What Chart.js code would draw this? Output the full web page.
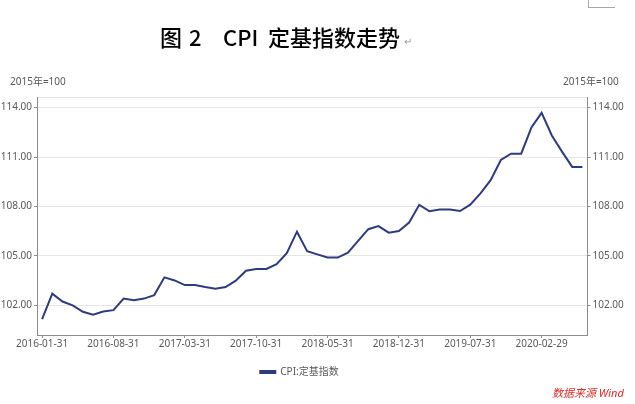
<!DOCTYPE html>
<html>
<head>
<meta charset="utf-8">
<script src="https://cdn.jsdelivr.net/npm/chart.js@4/dist/chart.umd.min.js"></script>
<style>
    html, body { margin: 0; padding: 0; background: #fff; }
    #wrap { position: relative; width: 635px; height: 404px; overflow: hidden; }
    #cpiChart { position: absolute; left: 0; top: 0; }
    .txt { position: absolute; white-space: nowrap; font-family: 'Noto Sans', 'Noto Sans CJK SC', sans-serif; }
    .title { font-family: 'Noto Sans CJK SC', sans-serif; font-size: 22px; font-weight: 500; color: #000; top: 22px; line-height: 28px; }
    .unit { font-size: 10px; color: #595959; top: 73px; }
    .source { font-size: 11px; color: #e02828; font-style: italic; left: 552px; top: 384px; }
    .mark { font-size: 10px; color: #999; left: 404px; top: 34px; }
    #corner { position: absolute; left: 588px; top: -1px; width: 26px; height: 8px; border-left: 1px solid #aaa; border-bottom: 1px solid #aaa; }
</style>
</head>
<body>
<div id="wrap">
    <canvas id="cpiChart" width="635" height="404"></canvas>
    <div id="corner"></div>
    <span class="txt title" style="left:160px">图</span>
    <span class="txt title" style="left:189px">2</span>
    <span class="txt title" style="left:223px">CPI</span>
    <span class="txt title" style="left:268px">定基指数走势</span>
    <span class="txt mark">↵</span>
    <span class="txt unit" style="left:10px">2015年=100</span>
    <span class="txt unit" style="left:563px">2015年=100</span>
    <span class="txt source">数据来源 Wind</span>
</div>
<script>
// ==========================================
// CPI fixed-base index (2015 = 100), monthly
// ==========================================

const months = [
    '2016-01-31', '2016-02-29', '2016-03-31', '2016-04-30', '2016-05-31', '2016-06-30',
    '2016-07-31', '2016-08-31', '2016-09-30', '2016-10-31', '2016-11-30', '2016-12-31',
    '2017-01-31', '2017-02-28', '2017-03-31', '2017-04-30', '2017-05-31', '2017-06-30',
    '2017-07-31', '2017-08-31', '2017-09-30', '2017-10-31', '2017-11-30', '2017-12-31',
    '2018-01-31', '2018-02-28', '2018-03-31', '2018-04-30', '2018-05-31', '2018-06-30',
    '2018-07-31', '2018-08-31', '2018-09-30', '2018-10-31', '2018-11-30', '2018-12-31',
    '2019-01-31', '2019-02-28', '2019-03-31', '2019-04-30', '2019-05-31', '2019-06-30',
    '2019-07-31', '2019-08-31', '2019-09-30', '2019-10-31', '2019-11-30', '2019-12-31',
    '2020-01-31', '2020-02-29', '2020-03-31', '2020-04-30', '2020-05-31', '2020-06-30'
];

const cpiIndex = [
    101.16, 102.71, 102.23, 102.00, 101.61, 101.43,
    101.62, 101.71, 102.41, 102.31, 102.41, 102.62,
    103.70, 103.51, 103.23, 103.23, 103.11, 103.01,
    103.11, 103.50, 104.10, 104.21, 104.21, 104.50,
    105.17, 106.47, 105.29, 105.09, 104.90, 104.90,
    105.19, 105.91, 106.62, 106.81, 106.41, 106.51,
    107.02, 108.10, 107.71, 107.81, 107.81, 107.72,
    108.11, 108.79, 109.60, 110.82, 111.20, 111.20,
    112.80, 113.68, 112.31, 111.33, 110.40, 110.40
];

// labelled x ticks (every 7th month)
const xTickLabels = ['2016-01-31', '2016-08-31', '2017-03-31', '2017-10-31',
    '2018-05-31', '2018-12-31', '2019-07-31', '2020-02-29'];

const yTicks = [102, 105, 108, 111, 114];
const yMin = 100.2;
const yMax = 114.6;

const lineColor = '#2e3b80';
const textColor = '#595959';
const axisColor = '#8c8c8c';
const gridColor = '#e6e6e6';
const tickFont = { size: 10, family: "'Noto Sans', 'Noto Sans CJK SC', sans-serif" };

function setYTicks(scale) {
    scale.ticks = [...yTicks, yMax].map(v => ({ value: v }));
}

const hideTopTick = c => (c.tick && c.tick.value > yMax - 0.01) ? 'rgba(0,0,0,0)' : axisColor;

const yTickOpts = {
    color: textColor,
    font: tickFont,
    padding: 2,
    callback: function (value) {
        return value > yMax - 0.01 ? '' : value.toFixed(2);
    }
};

const ctx = document.getElementById('cpiChart').getContext('2d');

new Chart(ctx, {
    type: 'line',
    data: {
        labels: months,
        datasets: [{
            label: 'CPI:定基指数',
            data: cpiIndex,
            borderColor: lineColor,
            backgroundColor: lineColor,
            borderWidth: 2,
            tension: 0,
            pointRadius: 0,
            fill: false
        }]
    },
    options: {
        responsive: false,
        animation: false,
        // negative left padding moves the legend centre left, as in the original
        layout: { padding: { top: 97.7, bottom: 17, left: -36, right: 0 } },
        plugins: {
            tooltip: { enabled: false },
            legend: {
                position: 'bottom',
                labels: {
                    color: textColor,
                    font: tickFont,
                    boxWidth: 15,
                    boxHeight: 2,
                    padding: 10
                }
            }
        },
        scales: {
            x: {
                offset: true,
                grid: {
                    drawOnChartArea: false,
                    drawTicks: true,
                    tickLength: 3,
                    tickColor: axisColor,
                    offset: false
                },
                border: { display: true, color: axisColor, width: 1 },
                ticks: {
                    color: textColor,
                    font: tickFont,
                    maxRotation: 0,
                    autoSkip: false,
                    padding: 0,
                    callback: function (value) {
                        const lbl = this.getLabelForValue(value);
                        return xTickLabels.includes(lbl) ? lbl : null;
                    }
                },
                afterFit: function (scale) { scale.height = 22; }
            },
            y: {
                position: 'left',
                min: yMin,
                max: yMax,
                afterBuildTicks: setYTicks,
                grid: {
                    color: gridColor,
                    lineWidth: 1,
                    tickLength: 3,
                    tickColor: hideTopTick
                },
                border: { display: true, color: axisColor, width: 1 },
                ticks: yTickOpts,
                afterFit: function (scale) { scale.width = 73; }
            },
            y2: {
                position: 'right',
                min: yMin,
                max: yMax,
                afterBuildTicks: setYTicks,
                grid: {
                    drawOnChartArea: false,
                    tickLength: 3,
                    tickColor: hideTopTick
                },
                border: { display: true, color: axisColor, width: 1 },
                ticks: yTickOpts,
                afterFit: function (scale) { scale.width = 47.5; }
            }
        }
    }
});
</script>
</body>
</html>
